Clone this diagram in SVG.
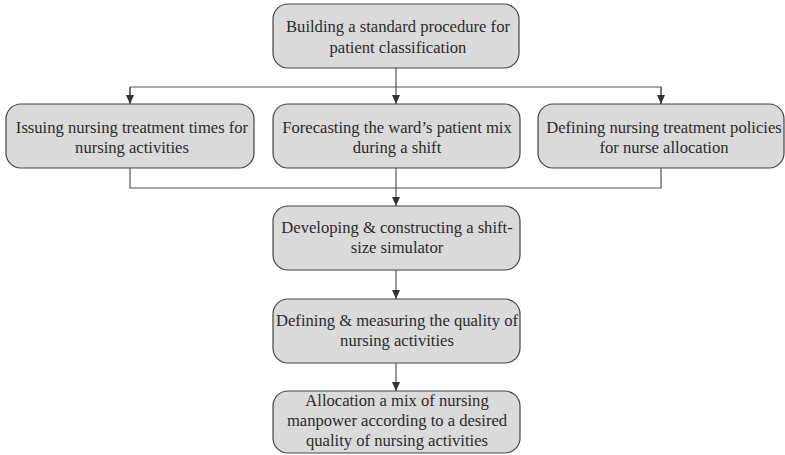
<svg xmlns="http://www.w3.org/2000/svg" width="785" height="455" viewBox="0 0 785 455">
  <style>
    .box { fill: #dadada; stroke: #444; stroke-width: 1.2; }
    .lbl { font-family: "Liberation Serif", "Times New Roman", serif; font-size: 16.6px; fill: #2a2a2a; text-anchor: middle; }
    .wire { fill: none; stroke: #555; stroke-width: 1.2; }
  </style>
  <defs>
    <marker id="arrow" markerUnits="userSpaceOnUse" markerWidth="9" markerHeight="9" viewBox="0 0 9 9" refX="9" refY="4.5" orient="auto">
      <path d="M0,0.5 L9,4.5 L0,8.5 Z" fill="#333"/>
    </marker>
  </defs>

  <rect width="785" height="455" fill="#ffffff"/>

  <!-- connectors -->
  <g id="connectors">
    <line class="wire" x1="396" y1="68" x2="396" y2="104" marker-end="url(#arrow)"/>
    <polyline class="wire" points="130,104 130,87 661,87 661,104"/>
    <line class="wire" x1="130" y1="87" x2="130" y2="104" marker-end="url(#arrow)"/>
    <line class="wire" x1="661" y1="87" x2="661" y2="104" marker-end="url(#arrow)"/>
    <polyline class="wire" points="130,168 130,188 661,188 661,168"/>
    <line class="wire" x1="396" y1="168" x2="396" y2="206" marker-end="url(#arrow)"/>
    <line class="wire" x1="396" y1="270" x2="396" y2="299" marker-end="url(#arrow)"/>
    <line class="wire" x1="396" y1="363" x2="396" y2="391" marker-end="url(#arrow)"/>
  </g>

  <g id="classification">
    <rect class="box" x="273" y="4" width="246" height="64" rx="15"/>
    <text class="lbl" x="398" y="32">Building a standard procedure for</text>
    <text class="lbl" x="398" y="53">patient classification</text>
  </g>

  <g id="treatment-times">
    <rect class="box" x="6" y="104" width="248" height="64" rx="15"/>
    <text class="lbl" x="132" y="133">Issuing nursing treatment times for</text>
    <text class="lbl" x="132" y="153">nursing activities</text>
  </g>

  <g id="patient-mix">
    <rect class="box" x="273" y="104" width="247" height="64" rx="15"/>
    <text class="lbl" x="397" y="133">Forecasting the ward’s patient mix</text>
    <text class="lbl" x="397" y="153">during a shift</text>
  </g>

  <g id="treatment-policies">
    <rect class="box" x="538" y="104" width="246" height="64" rx="15"/>
    <text class="lbl" x="664" y="133">Defining nursing treatment policies</text>
    <text class="lbl" x="664" y="153">for nurse allocation</text>
  </g>

  <g id="simulator">
    <rect class="box" x="273" y="206" width="247" height="64" rx="15"/>
    <text class="lbl" x="397" y="233">Developing &amp; constructing a shift-</text>
    <text class="lbl" x="397" y="253">size simulator</text>
  </g>

  <g id="quality">
    <rect class="box" x="273" y="299" width="247" height="64" rx="15"/>
    <text class="lbl" x="397" y="326">Defining &amp; measuring the quality of</text>
    <text class="lbl" x="397" y="346">nursing activities</text>
  </g>

  <g id="allocation">
    <rect class="box" x="273" y="391" width="247" height="62" rx="15"/>
    <text class="lbl" x="397" y="406">Allocation a mix of nursing</text>
    <text class="lbl" x="397" y="426">manpower according to a desired</text>
    <text class="lbl" x="397" y="446">quality of nursing activities</text>
  </g>
</svg>
